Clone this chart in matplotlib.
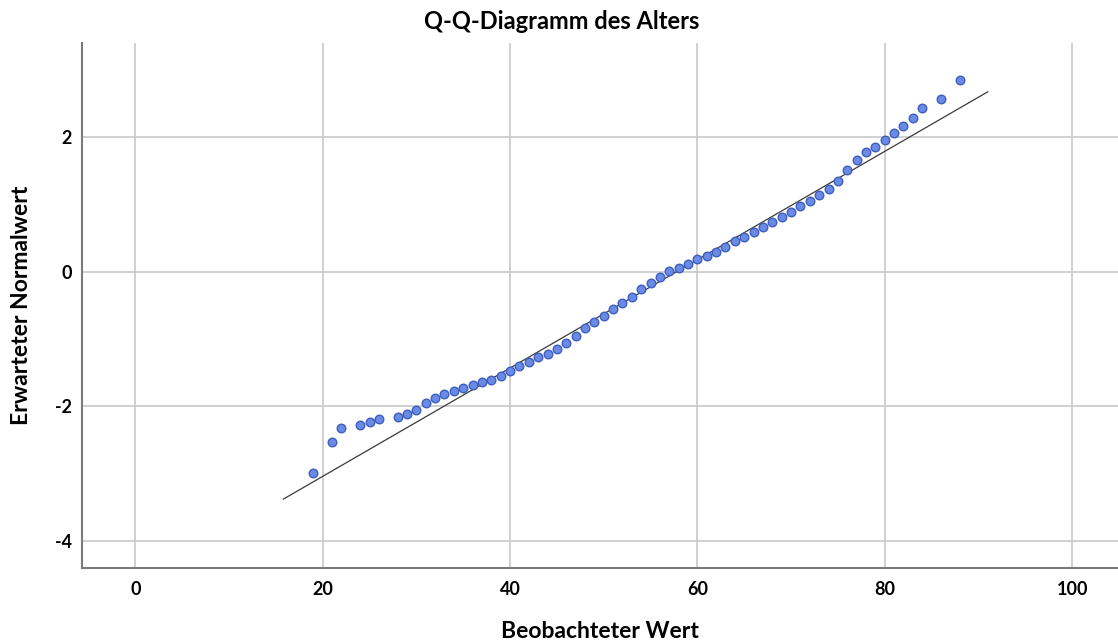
import numpy as np
import matplotlib
matplotlib.use("Agg")
import matplotlib.pyplot as plt

age = [19, 21, 22, 24, 25, 26, 28, 29, 30, 31, 32, 33, 34, 35, 36, 37, 38, 39,
       40, 41, 42, 43, 44, 45, 46, 47, 48, 49, 50, 51, 52, 53, 54, 55, 56, 57,
       58, 59, 60, 61, 62, 63, 64, 65, 66, 67, 68, 69, 70, 71, 72, 73, 74, 75,
       76, 77, 78, 79, 80, 81, 82, 83, 84, 86, 88]
expected = [-2.99, -2.53, -2.32, -2.28, -2.23, -2.18, -2.15, -2.11, -2.05, -1.95,
            -1.87, -1.81, -1.77, -1.73, -1.68, -1.63, -1.60, -1.55, -1.47, -1.40,
            -1.34, -1.27, -1.22, -1.15, -1.06, -0.96, -0.84, -0.75, -0.66, -0.56,
            -0.47, -0.37, -0.26, -0.17, -0.08, 0.01, 0.06, 0.11, 0.18, 0.23,
            0.29, 0.37, 0.46, 0.52, 0.59, 0.66, 0.73, 0.81, 0.89, 0.97,
            1.05, 1.13, 1.23, 1.35, 1.50, 1.65, 1.77, 1.85, 1.95, 2.06,
            2.16, 2.28, 2.43, 2.56, 2.84]

# reference line of the normal distribution
line_x = [15.8, 91.0]
mean_age = 57.8
sd_age = 12.45

plt.rcParams['font.family'] = ['Lato', 'DejaVu Sans']
plt.rcParams['font.weight'] = 'bold'
plt.rcParams['axes.unicode_minus'] = False

fig = plt.figure(figsize=(11.18, 6.44), dpi=100)
ax = fig.add_axes([0.0733, 0.1175, 0.9267, 0.8157])

ax.set_xlim(-5.7, 104.9)
ax.set_ylim(-4.40, 3.39)
ax.set_xticks([0, 20, 40, 60, 80, 100])
ax.set_yticks([-4, -2, 0, 2])
ax.grid(True, color='#c8c8c8', linewidth=1.2)
ax.set_axisbelow(True)

lx = np.array(line_x)
ax.plot(lx, (lx - mean_age) / sd_age, color='#3a3a3a', linewidth=0.9, zorder=2)
ax.scatter(age, expected, s=38, color='#6a8ae6', edgecolors='#3d5fbf',
           linewidths=1.0, zorder=3)

for side in ['top', 'right']:
    ax.spines[side].set_visible(False)
for side in ['left', 'bottom']:
    ax.spines[side].set_color('#7a7a7a')
    ax.spines[side].set_linewidth(1.5)
ax.tick_params(length=0, labelsize=13)
ax.tick_params(axis='x', pad=9)
ax.tick_params(axis='y', pad=7)
for lab in ax.get_xticklabels() + ax.get_yticklabels():
    lab.set_fontweight('bold')

# title is centred on the whole figure, not on the axes
ax.set_title('Q-Q-Diagramm des Alters', fontsize=17, fontweight='bold',
             pad=10, x=0.463)
ax.set_xlabel('Beobachteter Wert', fontsize=16.5, fontweight='bold', labelpad=17)
ax.set_ylabel('Erwarteter Normalwert', fontsize=16.5, fontweight='bold', labelpad=17)

fig.savefig('out.png', dpi=100)
